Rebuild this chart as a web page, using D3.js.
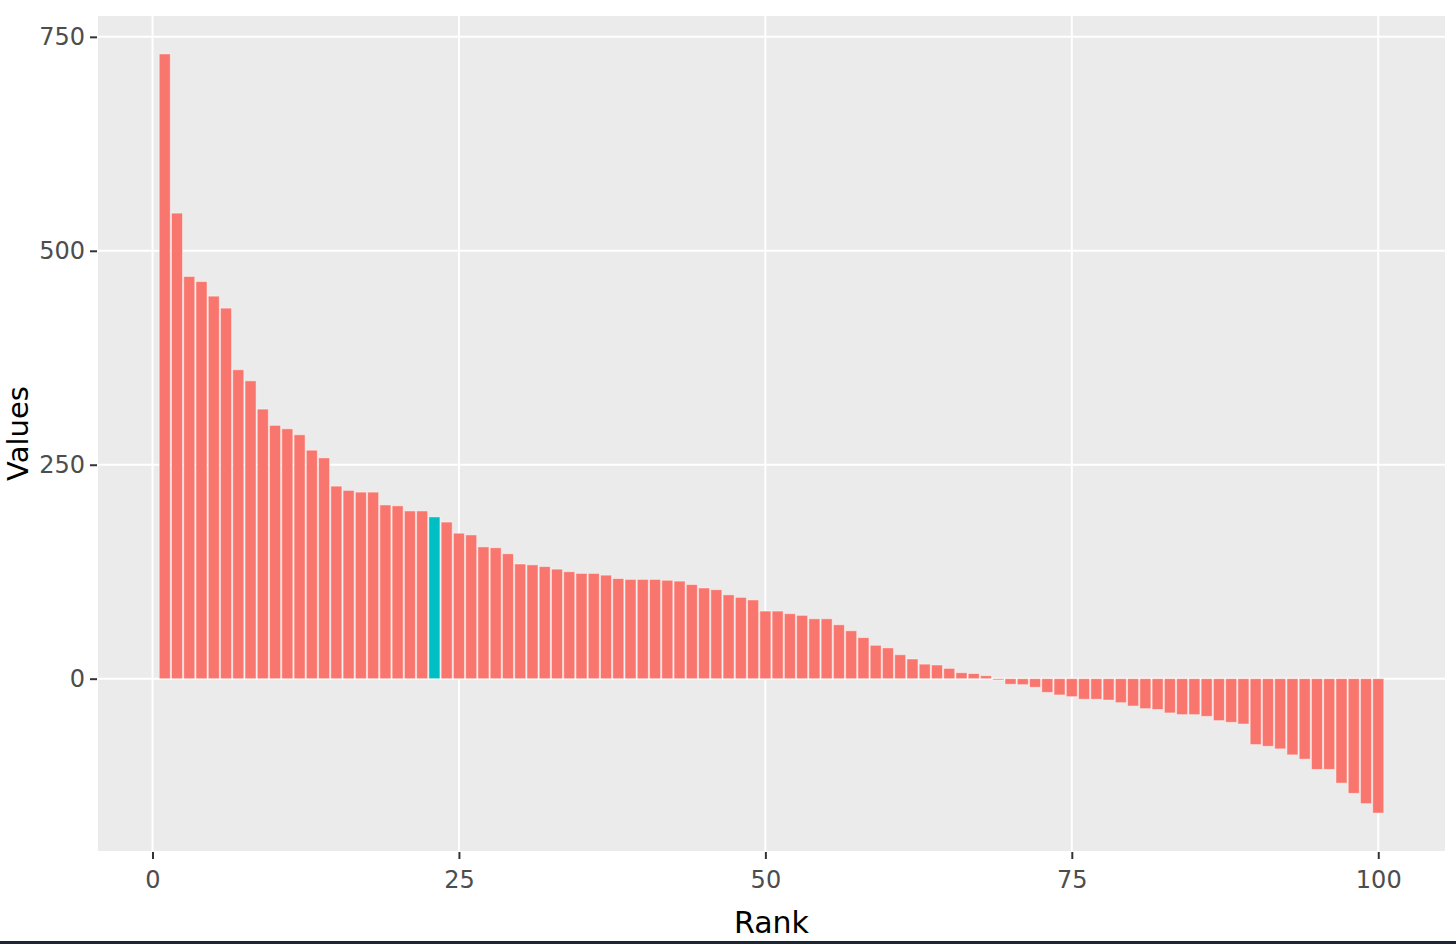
<!DOCTYPE html>
<html>
<head>
<meta charset="utf-8">
<script src="https://cdn.jsdelivr.net/npm/d3@7"></script>
<style>
  body { margin: 0; background: #fff; }
  svg { display: block; font-family: "DejaVu Sans", Verdana, sans-serif; }
</style>
</head>
<body>
<svg width="1456" height="944"></svg>
<script>
// values by rank
var values = [
  730, 544, 470, 464, 447, 433, 361, 348, 315, 296,
  292, 285, 267, 258, 225, 220, 218, 218, 203, 202,
  196, 196, 189, 183, 170, 168, 154, 153, 146, 134,
  133, 131, 128, 125, 123, 123, 121, 117, 116, 116,
  116, 115, 114, 110, 106, 104, 98, 95, 92, 79,
  79, 76, 74, 70, 70, 63, 56, 48, 39, 36,
  28, 23, 17, 16, 12, 7, 6, 3.5, -1.5, -6.5,
  -7, -10, -16, -19, -21, -24, -24, -25, -28, -32,
  -35, -36, -40, -42, -42, -44, -49, -51, -53, -77,
  -79, -82, -89, -94, -106, -106, -122, -134, -146, -157
];
var highlightRank = 23;
var xTicks = [0, 25, 50, 75, 100];
var yTicks = [0, 250, 500, 750];

var data = values.map(function (v, i) { return { rank: i + 1, value: v }; });

var panel = { left: 98, right: 1445, top: 16, bottom: 851 };
var barWidth = 0.9;

var svg = d3.select("svg");

// ggplot style 5% expansion
var xLo = 1 - barWidth / 2, xHi = values.length + barWidth / 2;
var xPad = (xHi - xLo) * 0.05;
var x = d3.scaleLinear()
    .domain([xLo - xPad, xHi + xPad])
    .range([panel.left, panel.right]);

var yLo = Math.min(0, d3.min(values)), yHi = d3.max(values);
var yPad = (yHi - yLo) * 0.05;
var y = d3.scaleLinear()
    .domain([yLo - yPad, yHi + yPad])
    .range([panel.bottom, panel.top]);

svg.append("rect")
    .attr("x", panel.left)
    .attr("y", panel.top)
    .attr("width", panel.right - panel.left)
    .attr("height", panel.bottom - panel.top)
    .attr("fill", "#ebebeb");

// grid
svg.append("g").selectAll("line")
    .data(xTicks)
    .enter().append("line")
    .attr("x1", function (d) { return x(d); })
    .attr("x2", function (d) { return x(d); })
    .attr("y1", panel.top)
    .attr("y2", panel.bottom)
    .attr("stroke", "#fff")
    .attr("stroke-width", 2);

svg.append("g").selectAll("line")
    .data(yTicks)
    .enter().append("line")
    .attr("x1", panel.left)
    .attr("x2", panel.right)
    .attr("y1", function (d) { return y(d); })
    .attr("y2", function (d) { return y(d); })
    .attr("stroke", "#fff")
    .attr("stroke-width", 2);

// bars
var bw = x(barWidth) - x(0);
svg.append("g").selectAll("rect")
    .data(data)
    .enter().append("rect")
    .attr("x", function (d) { return x(d.rank) - bw / 2; })
    .attr("width", bw)
    .attr("y", function (d) { return y(Math.max(0, d.value)); })
    .attr("height", function (d) { return Math.abs(y(d.value) - y(0)); })
    .attr("fill", function (d) { return d.rank === highlightRank ? "#00bfc4" : "#f8766d"; })
    .attr("stroke", "rgba(255,255,255,0.45)")
    .attr("stroke-width", 1);

// axes
var xAxis = svg.append("g")
    .attr("transform", "translate(0," + (panel.bottom + 1) + ")")
    .call(d3.axisBottom(x).tickValues(xTicks).tickSize(7).tickPadding(12));

var yAxis = svg.append("g")
    .attr("transform", "translate(" + (panel.left - 1) + ",0)")
    .call(d3.axisLeft(y).tickValues(yTicks).tickSize(7).tickPadding(5));

[xAxis, yAxis].forEach(function (g) {
  g.select(".domain").remove();
  g.selectAll(".tick line").attr("stroke", "#333").attr("stroke-width", 2);
  g.selectAll(".tick text")
    .attr("fill", "#4d4d4d")
    .style("font-size", "24px")
    .style("font-family", "DejaVu Sans, Verdana, sans-serif");
});

// titles
svg.append("text")
    .attr("x", (panel.left + panel.right) / 2)
    .attr("y", 933)
    .attr("text-anchor", "middle")
    .style("font-size", "30px")
    .attr("fill", "#000")
    .text("Rank");

svg.append("text")
    .attr("transform", "translate(28," + ((panel.top + panel.bottom) / 2) + ") rotate(-90)")
    .attr("text-anchor", "middle")
    .style("font-size", "29px")
    .attr("fill", "#000")
    .text("Values");

// dark strip along the bottom edge of the screenshot
svg.append("rect")
    .attr("x", 0)
    .attr("y", 941)
    .attr("width", 1456)
    .attr("height", 3)
    .attr("fill", "#1f2633");
</script>
</body>
</html>
